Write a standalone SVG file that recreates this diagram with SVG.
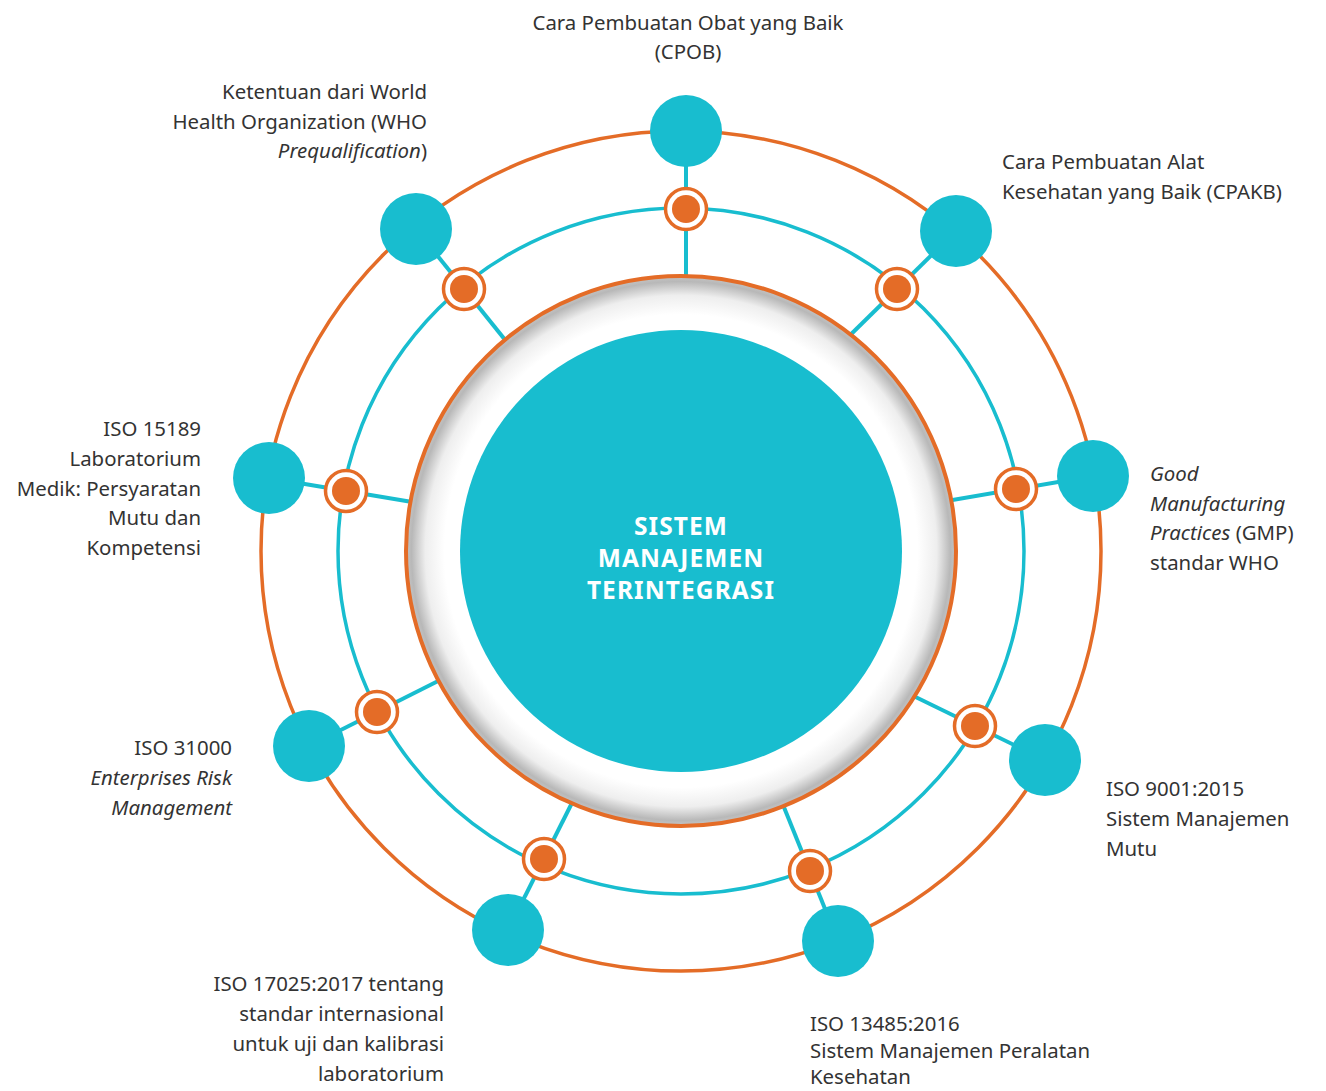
<svg xmlns="http://www.w3.org/2000/svg" width="1326" height="1091" viewBox="0 0 1326 1091">
<defs>
<style>
.lbl{font-family:"Noto Sans","Open Sans",sans-serif;font-size:20.4px;fill:#333333}
.r{text-anchor:end}
.m{text-anchor:middle}
.i{font-style:italic}
.ctr{font-family:"Noto Sans","Open Sans",sans-serif;font-size:24.5px;font-weight:bold;fill:#ffffff;text-anchor:middle;letter-spacing:1.1px}
.big{fill:#18BDCF}
.ring{fill:#ffffff;stroke:#E46C27;stroke-width:3.5}
.dot{fill:#E46C27}
.spoke{stroke:#18BDCF;stroke-width:4;fill:none}
</style>
<radialGradient id="shade" cx="681" cy="551" r="275" gradientUnits="userSpaceOnUse">
<stop offset="0" stop-color="#ffffff"/>
<stop offset="0.86" stop-color="#ffffff"/>
<stop offset="0.93" stop-color="#eeeeee"/>
<stop offset="0.98" stop-color="#b8b8b8"/>
<stop offset="1" stop-color="#c4c4c4"/>
</radialGradient>
</defs>
<rect width="1326" height="1091" fill="#ffffff"/>
<g id="orbits">
<circle cx="681" cy="551" r="420" fill="none" stroke="#E46C27" stroke-width="3.5"/>
<circle cx="681" cy="551" r="343" fill="none" stroke="#18BDCF" stroke-width="3.5"/>
</g>
<g id="connectors">
<line class="spoke" x1="686" y1="131" x2="686" y2="300"/>
<line class="spoke" x1="956" y1="231" x2="835" y2="350"/>
<line class="spoke" x1="1093" y1="476" x2="935" y2="503"/>
<line class="spoke" x1="1045" y1="760" x2="895" y2="687"/>
<line class="spoke" x1="838" y1="941" x2="775" y2="785"/>
<line class="spoke" x1="508" y1="930" x2="581" y2="785"/>
<line class="spoke" x1="309" y1="746" x2="460" y2="670"/>
<line class="spoke" x1="269" y1="478" x2="430" y2="505"/>
<line class="spoke" x1="416" y1="229" x2="518" y2="356"/>
</g>
<g id="center">
<circle cx="681" cy="551" r="275" fill="url(#shade)" stroke="#E46C27" stroke-width="4"/>
<circle cx="681" cy="551" r="221" fill="#18BDCF"/>
<text class="ctr" x="681" y="535">SISTEM</text>
<text class="ctr" x="681" y="567">MANAJEMEN</text>
<text class="ctr" x="681" y="599">TERINTEGRASI</text>
</g>
<g id="node-cpob">
<circle class="big" cx="686" cy="131" r="36"/>
<circle class="ring" cx="686" cy="209" r="20.5"/><circle class="dot" cx="686" cy="209" r="14"/>
<text class="lbl m" x="688" y="30">Cara Pembuatan Obat yang Baik</text>
<text class="lbl m" x="688" y="59">(CPOB)</text>
</g>
<g id="node-cpakb">
<circle class="big" cx="956" cy="231" r="36"/>
<circle class="ring" cx="897" cy="289" r="20.5"/><circle class="dot" cx="897" cy="289" r="14"/>
<text class="lbl" x="1002" y="169">Cara Pembuatan Alat</text>
<text class="lbl" x="1002" y="199">Kesehatan yang Baik (CPAKB)</text>
</g>
<g id="node-gmp">
<circle class="big" cx="1093" cy="476" r="36"/>
<circle class="ring" cx="1016" cy="489" r="20.5"/><circle class="dot" cx="1016" cy="489" r="14"/>
<text class="lbl i" x="1150" y="481">Good</text>
<text class="lbl i" x="1150" y="511">Manufacturing</text>
<text class="lbl" x="1150" y="540"><tspan class="i">Practices</tspan> (GMP)</text>
<text class="lbl" x="1150" y="570">standar WHO</text>
</g>
<g id="node-iso9001">
<circle class="big" cx="1045" cy="760" r="36"/>
<circle class="ring" cx="975" cy="726" r="20.5"/><circle class="dot" cx="975" cy="726" r="14"/>
<text class="lbl" x="1106" y="796">ISO 9001:2015</text>
<text class="lbl" x="1106" y="826">Sistem Manajemen</text>
<text class="lbl" x="1106" y="856">Mutu</text>
</g>
<g id="node-iso13485">
<circle class="big" cx="838" cy="941" r="36"/>
<circle class="ring" cx="810" cy="871" r="20.5"/><circle class="dot" cx="810" cy="871" r="14"/>
<text class="lbl" x="810" y="1031">ISO 13485:2016</text>
<text class="lbl" x="810" y="1058">Sistem Manajemen Peralatan</text>
<text class="lbl" x="810" y="1084">Kesehatan</text>
</g>
<g id="node-iso17025">
<circle class="big" cx="508" cy="930" r="36"/>
<circle class="ring" cx="544" cy="859" r="20.5"/><circle class="dot" cx="544" cy="859" r="14"/>
<text class="lbl r" x="444" y="991">ISO 17025:2017 tentang</text>
<text class="lbl r" x="444" y="1021">standar internasional</text>
<text class="lbl r" x="444" y="1051">untuk uji dan kalibrasi</text>
<text class="lbl r" x="444" y="1081">laboratorium</text>
</g>
<g id="node-iso31000">
<circle class="big" cx="309" cy="746" r="36"/>
<circle class="ring" cx="377" cy="712" r="20.5"/><circle class="dot" cx="377" cy="712" r="14"/>
<text class="lbl r" x="232" y="755">ISO 31000</text>
<text class="lbl r i" x="232" y="785">Enterprises Risk</text>
<text class="lbl r i" x="232" y="815">Management</text>
</g>
<g id="node-iso15189">
<circle class="big" cx="269" cy="478" r="36"/>
<circle class="ring" cx="346" cy="491" r="20.5"/><circle class="dot" cx="346" cy="491" r="14"/>
<text class="lbl r" x="201" y="436">ISO 15189</text>
<text class="lbl r" x="201" y="466">Laboratorium</text>
<text class="lbl r" x="201" y="496">Medik: Persyaratan</text>
<text class="lbl r" x="201" y="525">Mutu dan</text>
<text class="lbl r" x="201" y="555">Kompetensi</text>
</g>
<g id="node-who">
<circle class="big" cx="416" cy="229" r="36"/>
<circle class="ring" cx="464" cy="289" r="20.5"/><circle class="dot" cx="464" cy="289" r="14"/>
<text class="lbl r" x="427" y="99">Ketentuan dari World</text>
<text class="lbl r" x="427" y="129">Health Organization (WHO</text>
<text class="lbl r" x="427" y="158"><tspan class="i">Prequalification</tspan>)</text>
</g>
</svg>
